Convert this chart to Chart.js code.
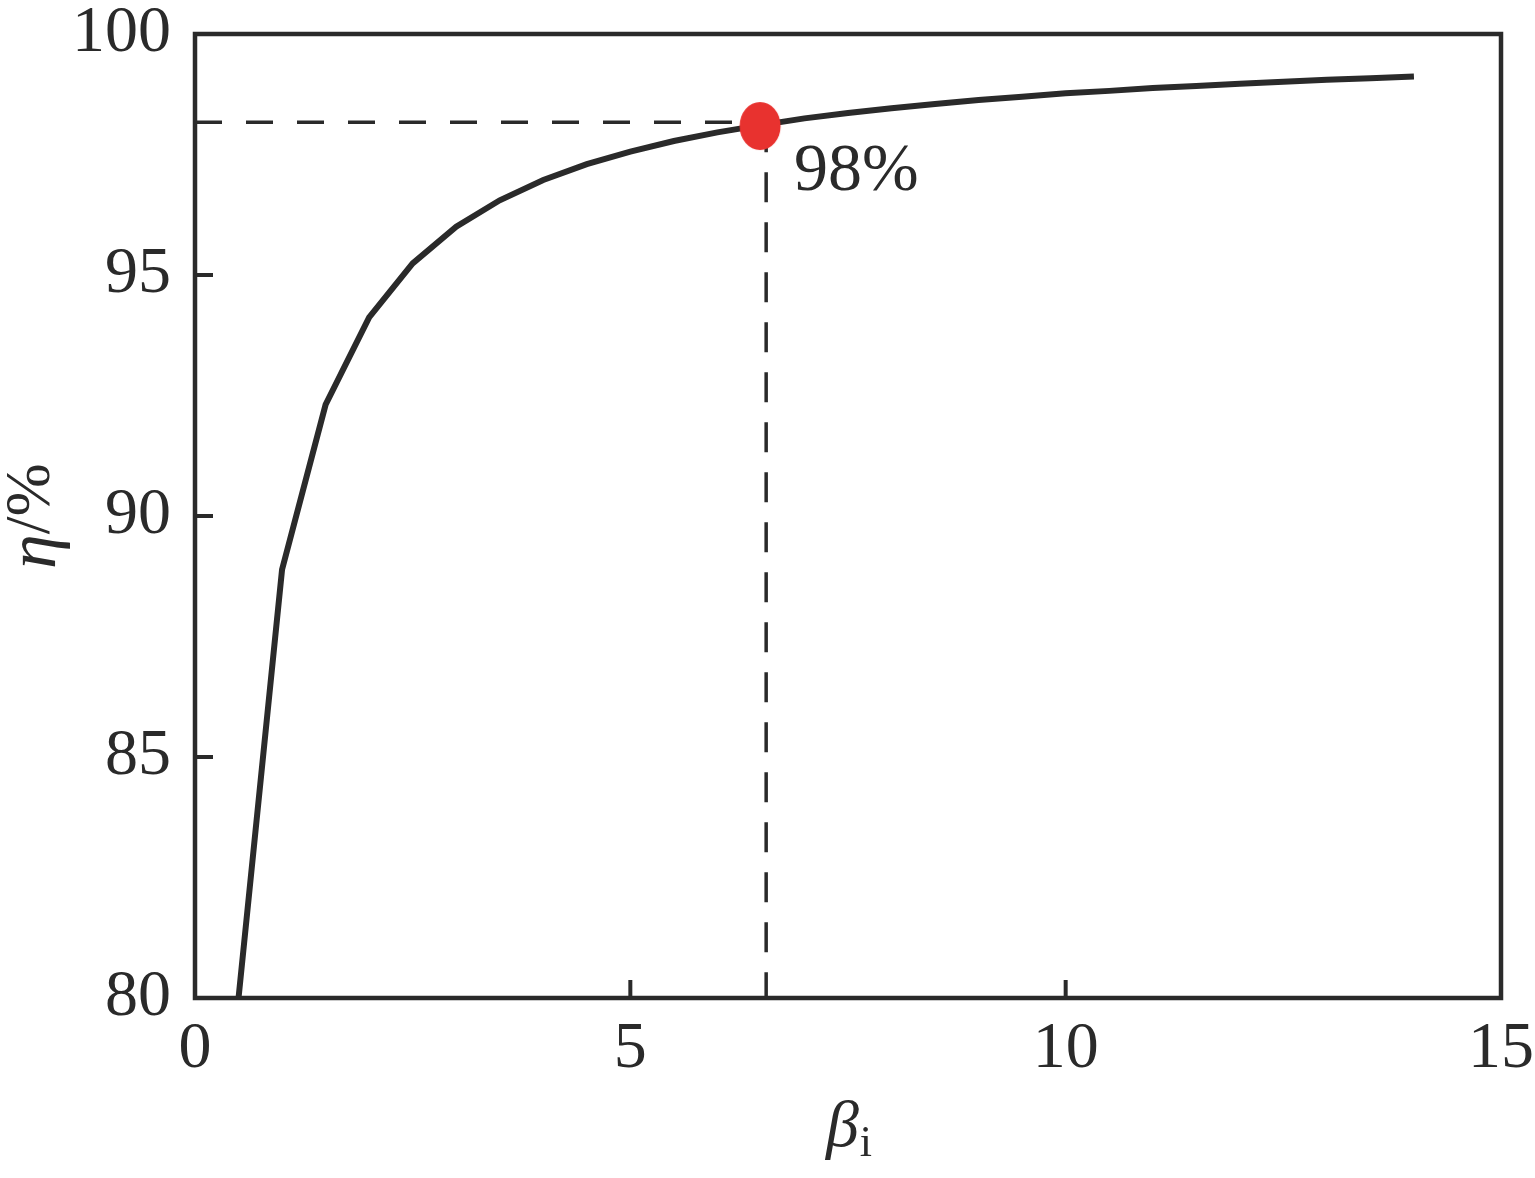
<!doctype html>
<html lang="en">
<head>
<meta charset="utf-8">
<title>eta vs beta</title>
<script src="https://cdn.jsdelivr.net/npm/chart.js@4.4.0/dist/chart.umd.min.js"></script>
<style>
  html, body { margin: 0; padding: 0; background: #fff; }
  #wrap { width: 1535px; height: 1178px; }
</style>
</head>
<body>
<div id="wrap"><canvas id="c" width="1535" height="1178"></canvas></div>
<script>
// values
const betaValues = [0.5, 1, 1.5, 2, 2.5, 3, 3.5, 4, 4.5, 5, 5.5, 6, 6.5, 7, 7.5, 8,
                    8.5, 9, 9.5, 10, 10.5, 11, 11.5, 12, 12.5, 13, 13.5, 14];
const etaValues  = [80.0, 88.89, 92.31, 94.12, 95.24, 96.0, 96.55, 96.97, 97.3, 97.56,
                    97.78, 97.96, 98.11, 98.25, 98.36, 98.46, 98.55, 98.63, 98.7, 98.77,
                    98.82, 98.88, 98.92, 98.97, 99.01, 99.05, 99.08, 99.12];
const markBeta = 6.49, markEta = 98.09;
const guideBeta = 6.56, guideEta = 98.17;
const markLabel = '98%';
const xTicks = [0, 5, 10, 15];
const yTicks = [80, 85, 90, 95, 100];

const INK = '#2a2a2a';
const SERIF = '"Times New Roman", "Liberation Serif", Times, serif';

// red elliptical dot as a point style
const dot = document.createElement('canvas');
dot.width = 44; dot.height = 50;
(function () {
  const g = dot.getContext('2d');
  g.fillStyle = '#e8322f';
  g.beginPath();
  g.ellipse(22, 25, 20.5, 24, 0, 0, Math.PI * 2);
  g.fill();
})();

const frameAndTicks = {
  id: 'frameAndTicks',
  afterDatasetsDraw(chart) {
    const { ctx, chartArea: a, scales: { x, y } } = chart;
    ctx.save();
    ctx.strokeStyle = INK;
    ctx.lineWidth = 4.5;
    ctx.strokeRect(a.left, a.top, a.right - a.left, a.bottom - a.top);
    ctx.lineWidth = 4;
    xTicks.forEach(v => {
      const px = x.getPixelForValue(v);
      ctx.beginPath(); ctx.moveTo(px, a.bottom); ctx.lineTo(px, a.bottom - 18); ctx.stroke();
    });
    yTicks.forEach(v => {
      const py = y.getPixelForValue(v);
      ctx.beginPath(); ctx.moveTo(a.left, py); ctx.lineTo(a.left + 18, py); ctx.stroke();
    });
    // annotation
    ctx.fillStyle = INK;
    ctx.font = '68px ' + SERIF;
    ctx.textAlign = 'left';
    ctx.textBaseline = 'alphabetic';
    ctx.fillText(markLabel, x.getPixelForValue(6.88), y.getPixelForValue(96.76));
    // axis titles
    ctx.font = 'italic 66px ' + SERIF;
    const bx = (a.left + a.right) / 2 + 2;
    ctx.fillText('\u03b2', bx - 24, 1146);
    const bw = ctx.measureText('\u03b2').width;
    ctx.font = '44px ' + SERIF;
    ctx.fillText('i', bx - 24 + bw + 1, 1156);

    ctx.translate(55, (a.top + a.bottom) / 2);
    ctx.rotate(-Math.PI / 2);
    ctx.font = 'italic 70px ' + SERIF;
    const ew = ctx.measureText('\u03b7').width;
    ctx.font = '64px ' + SERIF;
    const sw = ctx.measureText('/%').width;
    const start = -(ew + sw) / 2;
    ctx.font = 'italic 70px ' + SERIF;
    ctx.fillText('\u03b7', start, 0);
    ctx.font = '64px ' + SERIF;
    ctx.fillText('/%', start + ew, -6);
    ctx.restore();
  }
};

function noOverflow(s) {
  s.paddingTop = 0; s.paddingBottom = 0; s.paddingLeft = 0; s.paddingRight = 0;
}

function draw() {
  new Chart(document.getElementById('c'), {
    type: 'scatter',
    data: {
      datasets: [
        {
          data: [{ x: 0, y: guideEta }, { x: guideBeta, y: guideEta }],
          showLine: true, borderColor: INK, borderWidth: 3.5, borderDash: [27, 24],
          pointRadius: 0, order: 3
        },
        {
          data: [{ x: guideBeta, y: guideEta }, { x: guideBeta, y: 80 }],
          showLine: true, borderColor: INK, borderWidth: 3.5, borderDash: [30, 20],
          pointRadius: 0, order: 3
        },
        {
          data: betaValues.map((b, i) => ({ x: b, y: etaValues[i] })),
          showLine: true, borderColor: INK, borderWidth: 6, tension: 0,
          pointRadius: 0, order: 2
        },
        {
          data: [{ x: markBeta, y: markEta }],
          pointStyle: dot, pointRadius: 22, order: 1
        }
      ]
    },
    options: {
      responsive: false,
      animation: false,
      clip: false,
      layout: { padding: { left: 0, top: 34, right: 34, bottom: 0 } },
      plugins: { legend: { display: false }, tooltip: { enabled: false } },
      scales: {
        x: {
          type: 'linear', min: 0, max: 15,
          afterFit: s => { s.height = 180; noOverflow(s); },
          afterBuildTicks: s => { s.ticks = xTicks.map(v => ({ value: v })); },
          grid: { display: false, drawTicks: false },
          border: { display: false },
          ticks: { color: INK, font: { family: SERIF, size: 66 }, padding: 12, maxRotation: 0 }
        },
        y: {
          type: 'linear', min: 80, max: 100,
          afterFit: s => { s.width = 195; noOverflow(s); },
          afterBuildTicks: s => { s.ticks = yTicks.map(v => ({ value: v })); },
          grid: { display: false, drawTicks: false },
          border: { display: false },
          ticks: { color: INK, font: { family: SERIF, size: 66 }, padding: 24 }
        }
      }
    },
    plugins: [frameAndTicks]
  });
}

Promise.all([
  document.fonts.load('64px "Liberation Serif"', '0123456789%/i'),
  document.fonts.load('italic 64px "Liberation Serif"', '\u03b2\u03b7')
]).then(draw, draw);
</script>
</body>
</html>
